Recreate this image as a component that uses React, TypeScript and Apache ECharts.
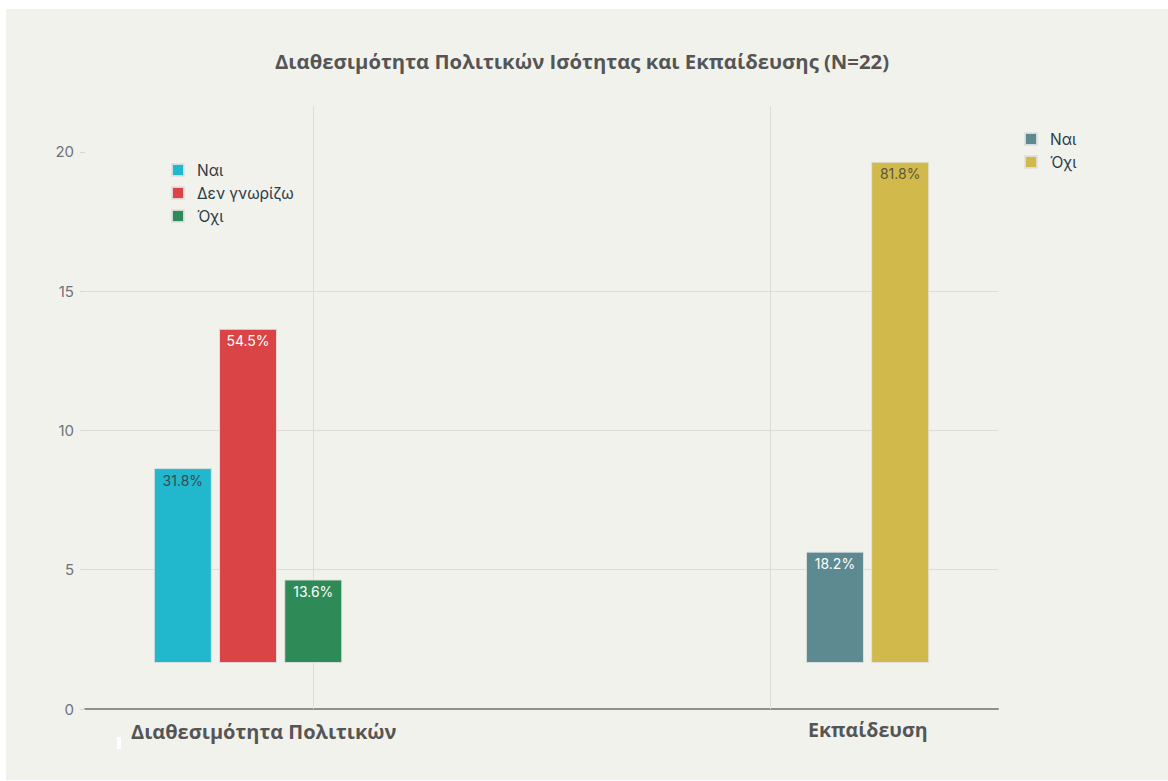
import React, { useEffect, useRef } from "react";
import * as echarts from "echarts";

// ---- data ----
const titleText = "Διαθεσιμότητα Πολιτικών Ισότητας και Εκπαίδευσης (N=22)";
const groupNames = ["Διαθεσιμότητα Πολιτικών", "Εκπαίδευση"];
const N = 22;
const policyNames = ["Ναι", "Δεν γνωρίζω", "Όχι"];
const policyCounts = [7, 12, 3];
const trainingNames = ["Ναι", "Όχι"];
const trainingCounts = [4, 18];
const barBase = 1.65; // bars float above zero in the reference
const yMax = 21.65;
const yInterval = 5;

// ---- layout (slots on a hidden category axis) ----
const slotCount = 14;
const slots = Array.from({ length: slotCount }, (_, i) => String(i));
const policySlots = [1, 2, 3];
const trainingSlots = [11, 12];
const vLineSlots = ["3", "10"];

const policyColors = ["#21b8cd", "#da4447", "#2e8b57"];
const policyLabelColors = ["#3a4852", "#ffffff", "#ffffff"];
const trainingColors = ["#5d8990", "#d1b94c"];
const trainingLabelColors = ["#ffffff", "#5a5540"];

const BG = "#f2f2ed";

function oneSlot(slot: number, v: number | string) {
  return slots.map((_, i) => (i === slot ? v : "-"));
}

export default function App() {
  const ref = useRef<HTMLDivElement>(null);

  useEffect(() => {
    document.body.style.margin = "0";
    if (!ref.current) return;
    const chart = echarts.init(ref.current, undefined, { renderer: "svg" });

    const baseData = slots.map((_, i) =>
      policySlots.includes(i) || trainingSlots.includes(i) ? barBase : "-"
    );

    const mkSeries = (
      name: string,
      slot: number,
      count: number,
      color: string,
      labelColor: string
    ) => ({
      name,
      type: "bar",
      stack: "all",
      barWidth: 58,
      z: 4,
      data: oneSlot(slot, count),
      itemStyle: {
        color,
        borderColor: "rgba(225,225,225,0.9)",
        borderWidth: 1,
      },
      label: {
        show: true,
        position: "insideTop",
        distance: 5,
        color: labelColor,
        fontFamily: "Inter",
        fontSize: 14,
        formatter: (p: any) => ((p.value / N) * 100).toFixed(1) + "%",
      },
    });

    const series: any[] = [
      {
        name: "base",
        type: "bar",
        stack: "all",
        barWidth: 58,
        silent: true,
        z: 1,
        data: baseData,
        itemStyle: { color: "transparent" },
        markLine: {
          silent: true,
          z: 1,
          symbol: "none",
          label: { show: false },
          lineStyle: { color: "#dddcd6", width: 1, type: "solid" },
          data: vLineSlots.map((s) => ({ xAxis: s })),
        },
      },
      ...policyNames.map((n, i) =>
        mkSeries(n, policySlots[i], policyCounts[i], policyColors[i], policyLabelColors[i])
      ),
      ...trainingNames.map((n, i) =>
        mkSeries(n, trainingSlots[i], trainingCounts[i], trainingColors[i], trainingLabelColors[i])
      ),
    ];

    const legendCommon = {
      orient: "vertical",
      icon: "rect",
      itemWidth: 12,
      itemHeight: 12,
      itemGap: 7,
      selectedMode: false,
      textStyle: {
        fontFamily: "Inter",
        fontSize: 15.5,
        lineHeight: 16,
        color: "#2b3d47",
        padding: [0, 0, 0, 8],
      },
    };

    chart.setOption({
      animation: false,
      backgroundColor: BG,
      title: {
        text: titleText,
        left: 571,
        top: 37,
        textAlign: "center",
        textStyle: {
          fontFamily: "Open Sans",
          fontWeight: "bold",
          fontSize: 20.3,
          color: "#555555",
        },
      },
      legend: [
        {
          ...legendCommon,
          left: 160,
          top: 148,
          data: policyNames.map((n, i) => ({ name: n, itemStyle: { color: policyColors[i] } })),
        },
        {
          ...legendCommon,
          left: 1013,
          top: 117,
          data: trainingNames.map((n, i) => ({ name: n, itemStyle: { color: trainingColors[i] } })),
        },
      ],
      grid: { left: 79, right: 170, top: 97, bottom: 71 },
      xAxis: {
        type: "category",
        data: slots,
        axisLabel: { show: false },
        axisTick: { show: false },
        axisLine: { show: true, lineStyle: { color: "#8f8f8c", width: 2 } },
        splitLine: { show: false },
      },
      yAxis: {
        type: "value",
        min: 0,
        max: yMax,
        interval: yInterval,
        axisLine: { show: false },
        axisTick: { show: true, length: 5, lineStyle: { color: "#d6d6d2" } },
        axisLabel: {
          showMaxLabel: false,
          margin: 11,
          color: "#6f737a",
          fontFamily: "Inter",
          fontSize: 15,
        },
        splitLine: {
          show: true,
          lineStyle: {
            color: ["transparent", "#dedbd6", "#dedbd6", "#e2d9d9", "transparent", "transparent"],
            width: 1,
          },
        },
      },
      graphic: [
        {
          type: "text",
          left: 125,
          top: 712,
          style: {
            text: groupNames[0],
            fontFamily: "Open Sans",
            fontWeight: "bold",
            fontSize: 20,
            fill: "#555555",
          },
        },
        {
          type: "text",
          left: 802,
          top: 710,
          style: {
            text: groupNames[1],
            fontFamily: "Open Sans",
            fontWeight: "bold",
            fontSize: 19.6,
            fill: "#555555",
          },
        },
        {
          type: "rect",
          left: 111,
          top: 728,
          shape: { width: 4, height: 12 },
          style: { fill: "#ffffff" },
        },
      ],
      series,
    });

    return () => chart.dispose();
  }, []);

  return (
    <div style={{ position: "fixed", left: 0, top: 0, width: 1168, height: 781, background: "#ffffff" }}>
      <div ref={ref} style={{ position: "absolute", left: 6, top: 9, width: 1162, height: 771 }} />
    </div>
  );
}
